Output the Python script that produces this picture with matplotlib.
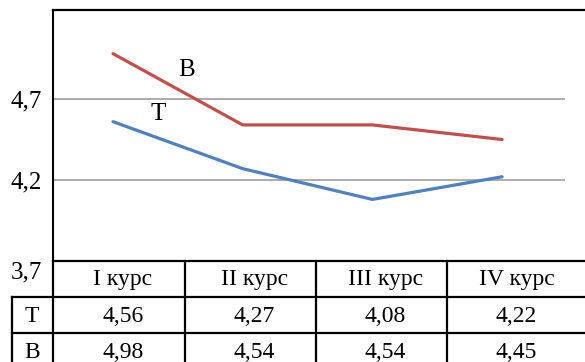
import matplotlib.pyplot as plt
from matplotlib.lines import Line2D

# данные по курсам
courses = ['I курс', 'II курс', 'III курс', 'IV курс']
t_vals = [4.56, 4.27, 4.08, 4.22]
b_vals = [4.98, 4.54, 4.54, 4.45]
row_names = ['Т', 'В']
y_ticks = [3.7, 4.2, 4.7]

plt.rcParams['font.family'] = ['Liberation Serif', 'DejaVu Serif']

W, H = 585, 362
fig = plt.figure(figsize=(W / 100, H / 100), dpi=100)

# область графика (в пикселях: слева 53, справа 565, сверху 10, снизу 261)
ax = fig.add_axes([53 / W, (H - 261) / H, (565 - 53) / W, (261 - 10) / H])
x = list(range(len(courses)))
ax.plot(x, b_vals, color='#C0504D', lw=2.3, solid_capstyle='round')
ax.plot(x, t_vals, color='#4F81BD', lw=2.3, solid_capstyle='round')
ax.set_xlim((53 - 113) / 129.7, (565 - 113) / 129.7)
ax.set_ylim(3.7, 4.7 + 89 / 162)

ax.set_yticks(y_ticks)
ax.set_yticklabels([f'{v:.1f}'.replace('.', ',') for v in y_ticks], fontsize=18)
ax.tick_params(axis='y', length=0, pad=8)
ax.get_yticklabels()[0].set_va('top')
ax.set_xticks([])
for v in y_ticks[1:]:
    ax.axhline(v, color='#A6A6A6', lw=1.3, zorder=0)
for s in ['top', 'right', 'bottom']:
    ax.spines[s].set_visible(False)
ax.spines['left'].set_linewidth(1.5)

ax.text(0.57, 4.88, 'В', fontsize=18, ha='center', va='center')
ax.text(0.35, 4.61, 'Т', fontsize=18, ha='center', va='center')

# таблица под графиком, рисуется в пиксельных координатах
tab = fig.add_axes([0, 0, 1, 1])
tab.set_xlim(0, W)
tab.set_ylim(H, 0)
tab.axis('off')
tab.patch.set_alpha(0)

lw = 1.6
def hline(y, x0, x1):
    tab.add_line(Line2D([x0, x1], [y, y], color='black', lw=lw))

def vline(x0, y0, y1):
    tab.add_line(Line2D([x0, x0], [y0, y1], color='black', lw=lw))

hline(10, 53, W)
hline(261, 53, W)
hline(297, 12, W)
hline(333, 12, W)
vline(53, 261, H)
vline(12, 297, H)
col_edges = [53, 185, 316, 447, 578]
for cx in col_edges[1:-1]:
    vline(cx, 261, H)

centers = [(col_edges[i] + col_edges[i + 1]) / 2 + 4 for i in range(4)]
for cx, name in zip(centers, courses):
    tab.text(cx, 280, name, fontsize=17, ha='center', va='center')
for cx, tv, bv in zip(centers, t_vals, b_vals):
    tab.text(cx, 316, f'{tv:.2f}'.replace('.', ','), fontsize=17, ha='center', va='center')
    tab.text(cx, 352, f'{bv:.2f}'.replace('.', ','), fontsize=17, ha='center', va='center')
tab.text(32, 316, row_names[0], fontsize=17, ha='center', va='center')
tab.text(32, 352, row_names[1], fontsize=17, ha='center', va='center')

fig.savefig('out.png', dpi=100)
